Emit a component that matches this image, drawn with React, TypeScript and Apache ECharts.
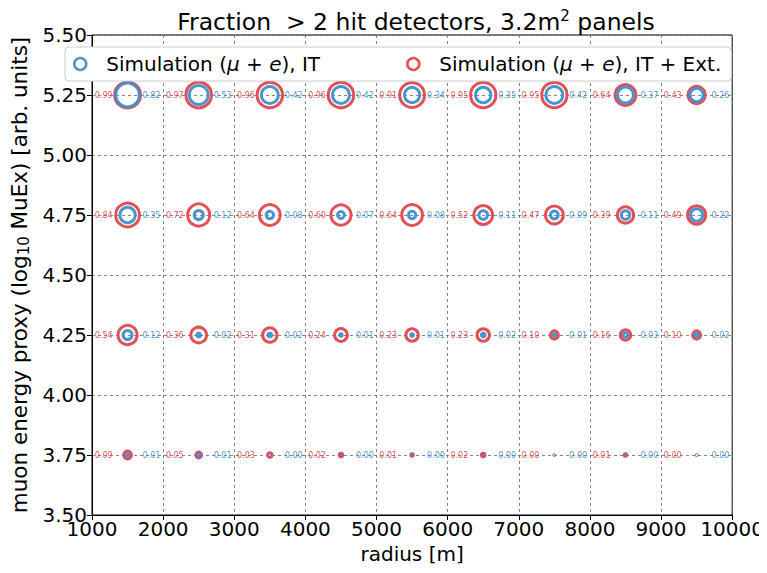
import { useEffect, useRef } from "react";
import * as echarts from "echarts";

// Detector array radii (bin centres) and muon energy proxy bins
const radii = [1500, 2500, 3500, 4500, 5500, 6500, 7500, 8500, 9500];
const energyBins = [3.75, 4.25, 4.75, 5.25];

// Fraction of events with >2 hit detectors, IT + extension
const itExt375 = [0.09, 0.05, 0.03, 0.02, 0.01, 0.02, 0.0, 0.01, 0.0];
const itExt425 = [0.54, 0.36, 0.31, 0.24, 0.23, 0.23, 0.1, 0.16, 0.1];
const itExt475 = [0.84, 0.72, 0.64, 0.6, 0.64, 0.52, 0.47, 0.39, 0.49];
const itExt525 = [0.99, 0.97, 0.96, 0.96, 0.91, 0.95, 0.95, 0.64, 0.43];

// Fraction of events with >2 hit detectors, IT only
const it375 = [0.01, 0.01, 0.0, 0.0, 0.0, 0.0, 0.0, 0.0, 0.0];
const it425 = [0.12, 0.02, 0.02, 0.01, 0.01, 0.02, 0.01, 0.03, 0.02];
const it475 = [0.35, 0.12, 0.08, 0.07, 0.08, 0.11, 0.09, 0.11, 0.22];
const it525 = [0.82, 0.53, 0.42, 0.42, 0.34, 0.35, 0.42, 0.37, 0.26];

const RED = "#e0474c";
const BLUE = "#3f8fcf";
const FONT = "DejaVu Sans, sans-serif";

const NAME_IT = "Simulation (μ+e), IT";
const NAME_EXT = "Simulation (μ+e), IT + Ext.";

function toPoints(rows: number[][]) {
  const pts: number[][] = [];
  rows.forEach((row, i) => {
    row.forEach((v, j) => pts.push([radii[j], energyBins[i], v]));
  });
  return pts;
}

const ringSize = (v: number[]) => Math.max(Math.sqrt(v[2]) * 26, 0.6);

export default function App() {
  const ref = useRef<HTMLDivElement>(null);

  useEffect(() => {
    if (!ref.current) return;
    const chart = echarts.init(ref.current, undefined, { renderer: "svg" });

    const extPts = toPoints([itExt375, itExt425, itExt475, itExt525]);
    const itPts = toPoints([it375, it425, it475, it525]);

    chart.setOption({
      animation: false,
      textStyle: { fontFamily: FONT },
      title: {
        text: "Fraction  > 2 hit detectors, 3.2m{sup|2} panels",
        left: 411,
        textAlign: "center",
        top: 3,
        textStyle: {
          fontFamily: FONT,
          fontSize: 23.5,
          fontWeight: "normal",
          color: "#000",
          rich: {
            sup: { fontSize: 15, verticalAlign: "top", padding: [0, 0, 12, 0], fontFamily: FONT, color: "#000" },
          },
        },
      },
      legend: {
        left: 65,
        top: 47,
        padding: [7, 10, 7, 8],
        itemGap: 86,
        itemWidth: 12,
        itemHeight: 12,
        backgroundColor: "#fff",
        borderColor: "#cccccc",
        borderWidth: 1,
        borderRadius: 4,
        data: [
          { name: NAME_IT, icon: "circle", itemStyle: { color: "rgba(0,0,0,0)", borderColor: BLUE, borderWidth: 2.5 } },
          { name: NAME_EXT, icon: "circle", itemStyle: { color: "rgba(0,0,0,0)", borderColor: RED, borderWidth: 2.5 } },
        ],
        formatter: (name: string) =>
          name === NAME_IT
            ? "Simulation ({i|μ} + {i|e}), IT"
            : "Simulation ({i|μ} + {i|e}), IT + Ext.",
        textStyle: {
          fontFamily: FONT,
          fontSize: 20,
          color: "#000",
          padding: [0, 0, 0, 15],
          rich: {
            i: { fontStyle: "italic", fontFamily: FONT, fontSize: 20, color: "#000" },
          },
        },
      },
      grid: {
        left: 92,
        right: 30,
        top: 35,
        bottom: 58,
        show: true,
        borderColor: "#000",
        borderWidth: 1,
        backgroundColor: "transparent",
        containLabel: false,
      },
      xAxis: {
        type: "value",
        min: 1000,
        max: 10000,
        interval: 1000,
        name: "radius [m]",
        nameLocation: "middle",
        nameGap: 27,
        nameTextStyle: { fontFamily: FONT, fontSize: 20, color: "#000", verticalAlign: "top" },
        axisLine: { show: true, lineStyle: { color: "#000", width: 1 } },
        axisTick: { show: true, inside: false, length: 5, lineStyle: { color: "#000" } },
        axisLabel: {
          fontFamily: FONT,
          fontSize: 20,
          color: "#000",
          margin: 4,
          formatter: (v: number) => String(v),
        },
        splitLine: { show: true, lineStyle: { color: "#666", type: [3, 3], width: 0.8 } },
      },
      yAxis: {
        type: "value",
        min: 3.5,
        max: 5.5,
        interval: 0.25,
        name: "muon energy proxy (log{sub|10} MuEx) [arb. units]",
        nameLocation: "middle",
        nameRotate: 90,
        nameGap: 60,
        nameTextStyle: {
          fontFamily: FONT,
          fontSize: 21.5,
          color: "#000",
          rich: {
            sub: { fontSize: 15, fontFamily: FONT, color: "#000", verticalAlign: "bottom", padding: [10, 0, 0, 0] },
          },
        },
        axisLine: { show: true, lineStyle: { color: "#000", width: 1 } },
        axisTick: { show: true, inside: false, length: 5, lineStyle: { color: "#000" } },
        axisLabel: {
          fontFamily: FONT,
          fontSize: 20,
          color: "#000",
          margin: 5,
          formatter: (v: number) => v.toFixed(2),
        },
        splitLine: { show: true, lineStyle: { color: "#666", type: [3, 3], width: 0.8 } },
      },
      series: [
        {
          name: NAME_EXT,
          type: "scatter",
          data: extPts,
          symbol: "circle",
          symbolSize: ringSize,
          itemStyle: { color: "rgba(0,0,0,0)", borderColor: RED, borderWidth: 3, opacity: 0.95 },
          label: {
            show: true,
            position: "inside",
            offset: [-15, 0],
            align: "right",
            verticalAlign: "middle",
            formatter: (p: any) => p.value[2].toFixed(2),
            color: RED,
            fontSize: 8,
            fontFamily: FONT,
          },
          emphasis: { disabled: true },
          z: 2,
        },
        {
          name: NAME_IT,
          type: "scatter",
          data: itPts,
          symbol: "circle",
          symbolSize: ringSize,
          itemStyle: { color: "rgba(0,0,0,0)", borderColor: BLUE, borderWidth: 3, opacity: 0.95 },
          label: {
            show: true,
            position: "inside",
            offset: [15, 0],
            align: "left",
            verticalAlign: "middle",
            formatter: (p: any) => p.value[2].toFixed(2),
            color: BLUE,
            fontSize: 8,
            fontFamily: FONT,
          },
          emphasis: { disabled: true },
          z: 3,
        },
      ],
    });

    return () => chart.dispose();
  }, []);

  return <div ref={ref} style={{ width: 767, height: 573, margin: -8 }} />;
}
